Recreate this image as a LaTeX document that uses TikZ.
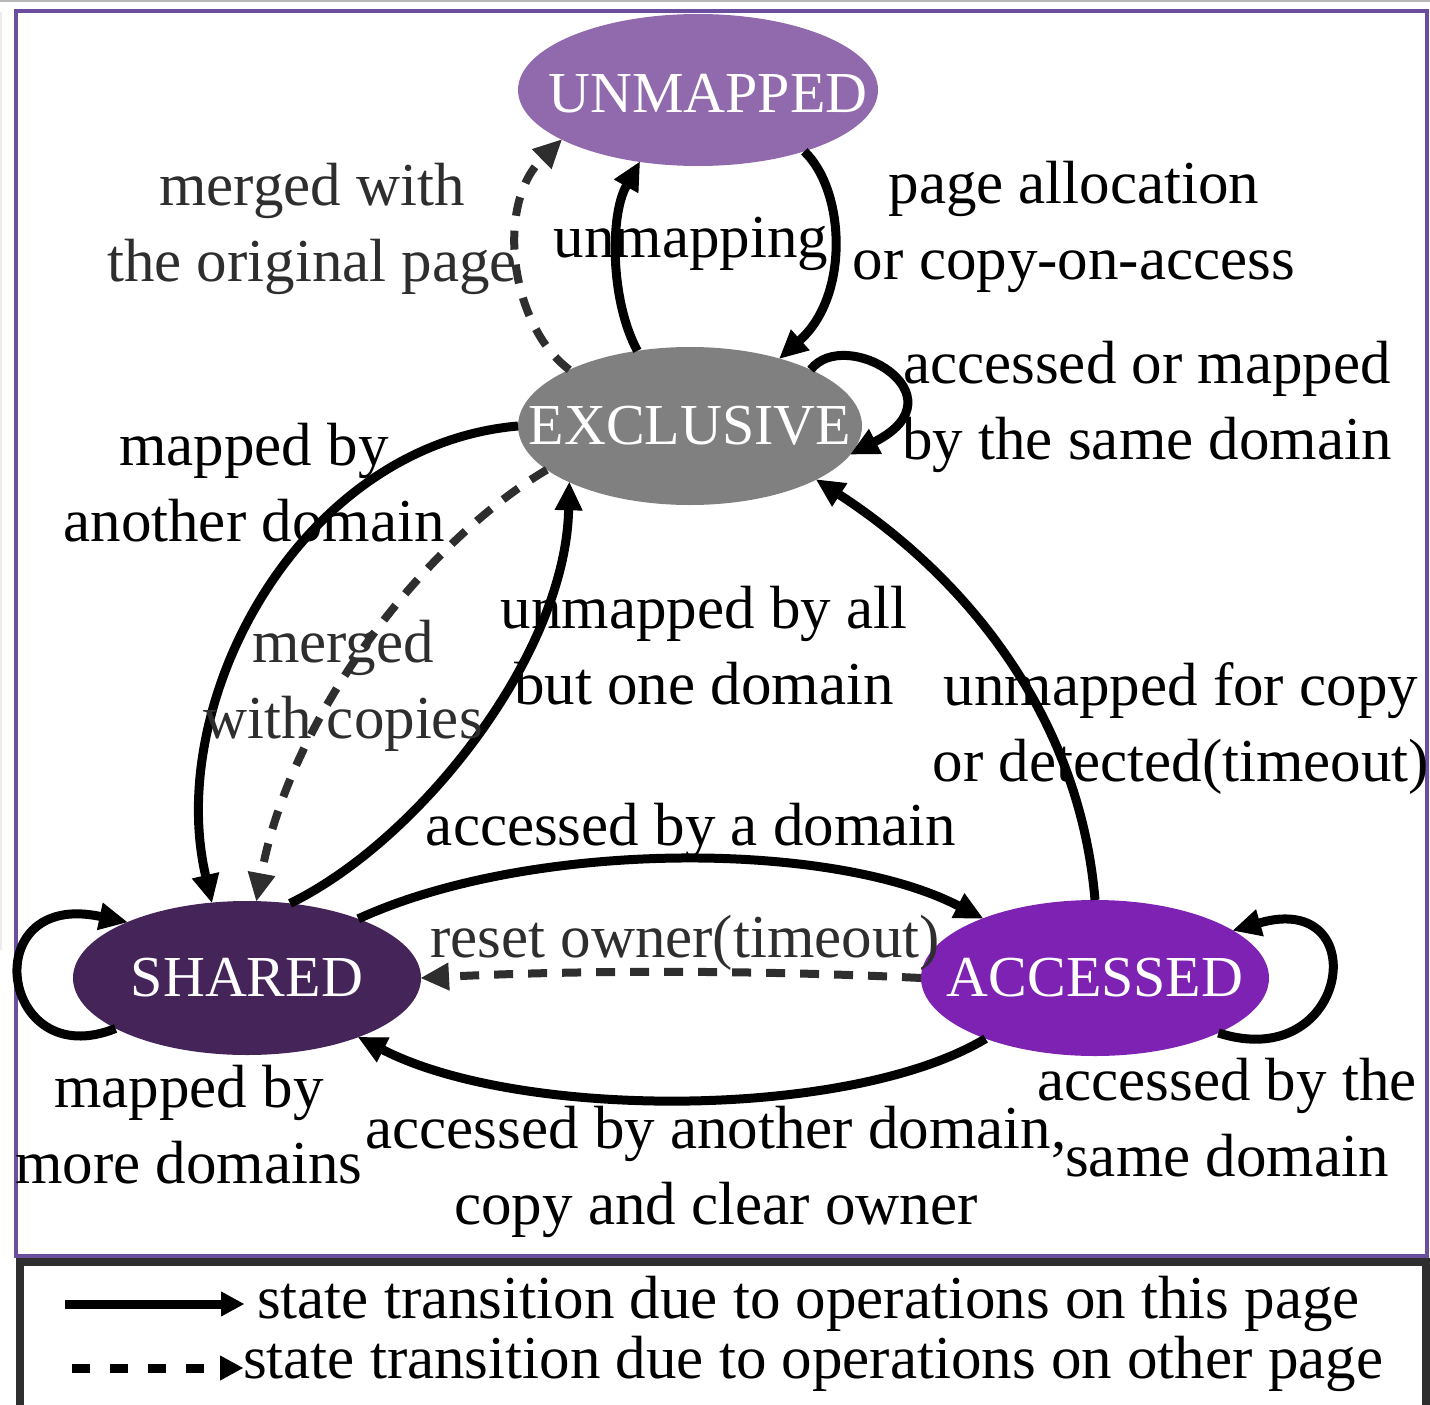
\documentclass[tikz,border=0pt]{standalone}
\usepackage{fontspec}
\setmainfont{Liberation Serif}
\usetikzlibrary{shapes.geometric,arrows.meta}

\definecolor{cUnm}{HTML}{916AAD}
\definecolor{cExc}{HTML}{808080}
\definecolor{cShr}{HTML}{45245A}
\definecolor{cAcc}{HTML}{7E22B4}
\definecolor{cFrame}{HTML}{6B4E9E}
\definecolor{dgray}{HTML}{2E2E2E}

\newcommand\stfont{\fontsize{58}{70}\selectfont}
\newcommand\lblfont{\fontsize{61}{76}\selectfont}
\newcommand\twoln[2]{\begin{tabular}[t]{@{}c@{}}#1\\#2\end{tabular}}

\begin{document}
\begin{tikzpicture}[x=1pt,y=-1pt,
  state/.style={ellipse, inner sep=0pt, outer sep=0pt, text=white, font=\stfont},
  lbl/.style={inner sep=0pt, outer sep=0pt, anchor=base, font=\lblfont, text=black},
  dlbl/.style={lbl, text=dgray},
  trans/.style={line width=9pt, draw=black, -{Triangle[length=28pt,width=28pt,line width=1pt]}},
  dtrans/.style={trans, line width=8pt, draw=dgray, dash pattern=on 19pt off 15pt},
  legline/.style={line width=9pt, draw=black, -{Triangle[length=23pt,width=25pt,line width=1pt]}},
  ]
  \useasboundingbox (0,0) rectangle (1430,1405);

  % outer frames
  \draw[gray!55, line width=2pt] (0,1) -- (1430,1);
  \draw[gray!15, line width=1.5pt] (1,12) -- (1,950);
  \draw[cFrame, line width=4.5pt] (16,11) rectangle (1427,1256);
  \draw[dgray, line width=7.5pt] (20,1405) -- (20,1262) -- (1426,1262) -- (1426,1405);

  % states
  \node[state, fill=cUnm, minimum width=360pt, minimum height=152pt, text height=46pt] (unm) at (698,90) {\makebox[0pt]{\hspace*{20pt}UNMAPPED}};
  \node[state, fill=cExc, minimum width=344pt, minimum height=158pt] (exc) at (690,426) {\makebox[0pt]{EXCLUSIVE}};
  \node[state, fill=cShr, minimum width=348pt, minimum height=154pt] (shr) at (247,978) {\makebox[0pt]{SHARED}};
  \node[state, fill=cAcc, minimum width=348pt, minimum height=156pt] (acc) at (1095,978) {\makebox[0pt]{ACCESSED}};

  % transitions
  \draw[trans] (exc.125) .. controls (610,300) and (610,215) .. (unm.231.5);
  \draw[trans] (unm.330.5) .. controls (845,190) and (850,295) .. (exc.37);
  \draw[dtrans] (exc.155) .. controls (510,325) and (495,205) .. (unm.200);
  \draw[trans] (exc.25) .. controls (845,325) and (965,395) .. (exc.350);
  \draw[trans] (exc.180) .. controls (300,445) and (165,700) .. (shr.115);
  \draw[dtrans] (exc.197) .. controls (420,545) and (290,720) .. (shr.83);
  \draw[trans] (shr.60) .. controls (420,840) and (565,655) .. (exc.205);
  \draw[trans] (acc.90) .. controls (1080,720) and (970,580) .. (exc.337);
  \draw[trans] (shr.28) .. controls (530,840) and (830,840) .. (acc.152);
  \draw[dtrans] (acc.180) .. controls (760,970) and (580,970) .. (shr.0);
  \draw[trans] (acc.209.4) .. controls (850,1120) and (520,1120) .. (shr.332.4);
  \draw[trans] (shr.201) .. controls (0,1075) and (-25,890) .. (shr.155);
  \draw[trans] (acc.336) .. controls (1350,1075) and (1375,890) .. (acc.19.4);

  % transition labels
  \node[dlbl] (l-orig) at (312,205) {\twoln{merged with}{the original page}};
  \node[lbl] (l-unmap) at (691,257) {unmapping};
  \node[lbl] (l-alloc) at (1074,203) {\twoln{page allocation}{or copy-on-access}};
  \node[lbl] (l-same) at (1147,383) {\twoln{accessed or mapped}{by the same domain}};
  \node[lbl] (l-another) at (254,465) {\twoln{mapped by}{another domain}};
  \node[dlbl] (l-copies) at (343,662) {\twoln{merged}{with copies}};
  \node[lbl] (l-allbut) at (704,628) {\twoln{unmapped by all}{but one domain}};
  \node[lbl] (l-copy) at (1181,705) {\twoln{unmapped for copy}{or detected(timeout)}};
  \node[lbl] (l-bya) at (691,845) {accessed by a domain};
  \node[dlbl] (l-reset) at (685,957) {reset owner(timeout)};
  \node[lbl] (l-more) at (189,1107) {\twoln{mapped by}{more domains}};
  \node[lbl] (l-clear) at (716,1148) {\twoln{accessed by another domain,}{copy and clear owner}};
  \node[lbl] (l-bythe) at (1227,1100) {\twoln{accessed by the}{same domain}};

  % legend
  \coordinate (ls0) at (65,1304);
  \coordinate (ls1) at (244,1304);
  \coordinate (ld0) at (72,1368);
  \coordinate (ld1) at (243,1368);
  \draw[legline] (ls0) -- (ls1);
  \draw[legline, dash pattern=on 18pt off 20pt] (ld0) -- (ld1);
  \node[lbl, anchor=base west] (leg1) at (257,1318) {state transition due to operations on this page};
  \node[lbl, anchor=base west] (leg2) at (243,1378) {state transition due to operations on other page};
\end{tikzpicture}
\end{document}
